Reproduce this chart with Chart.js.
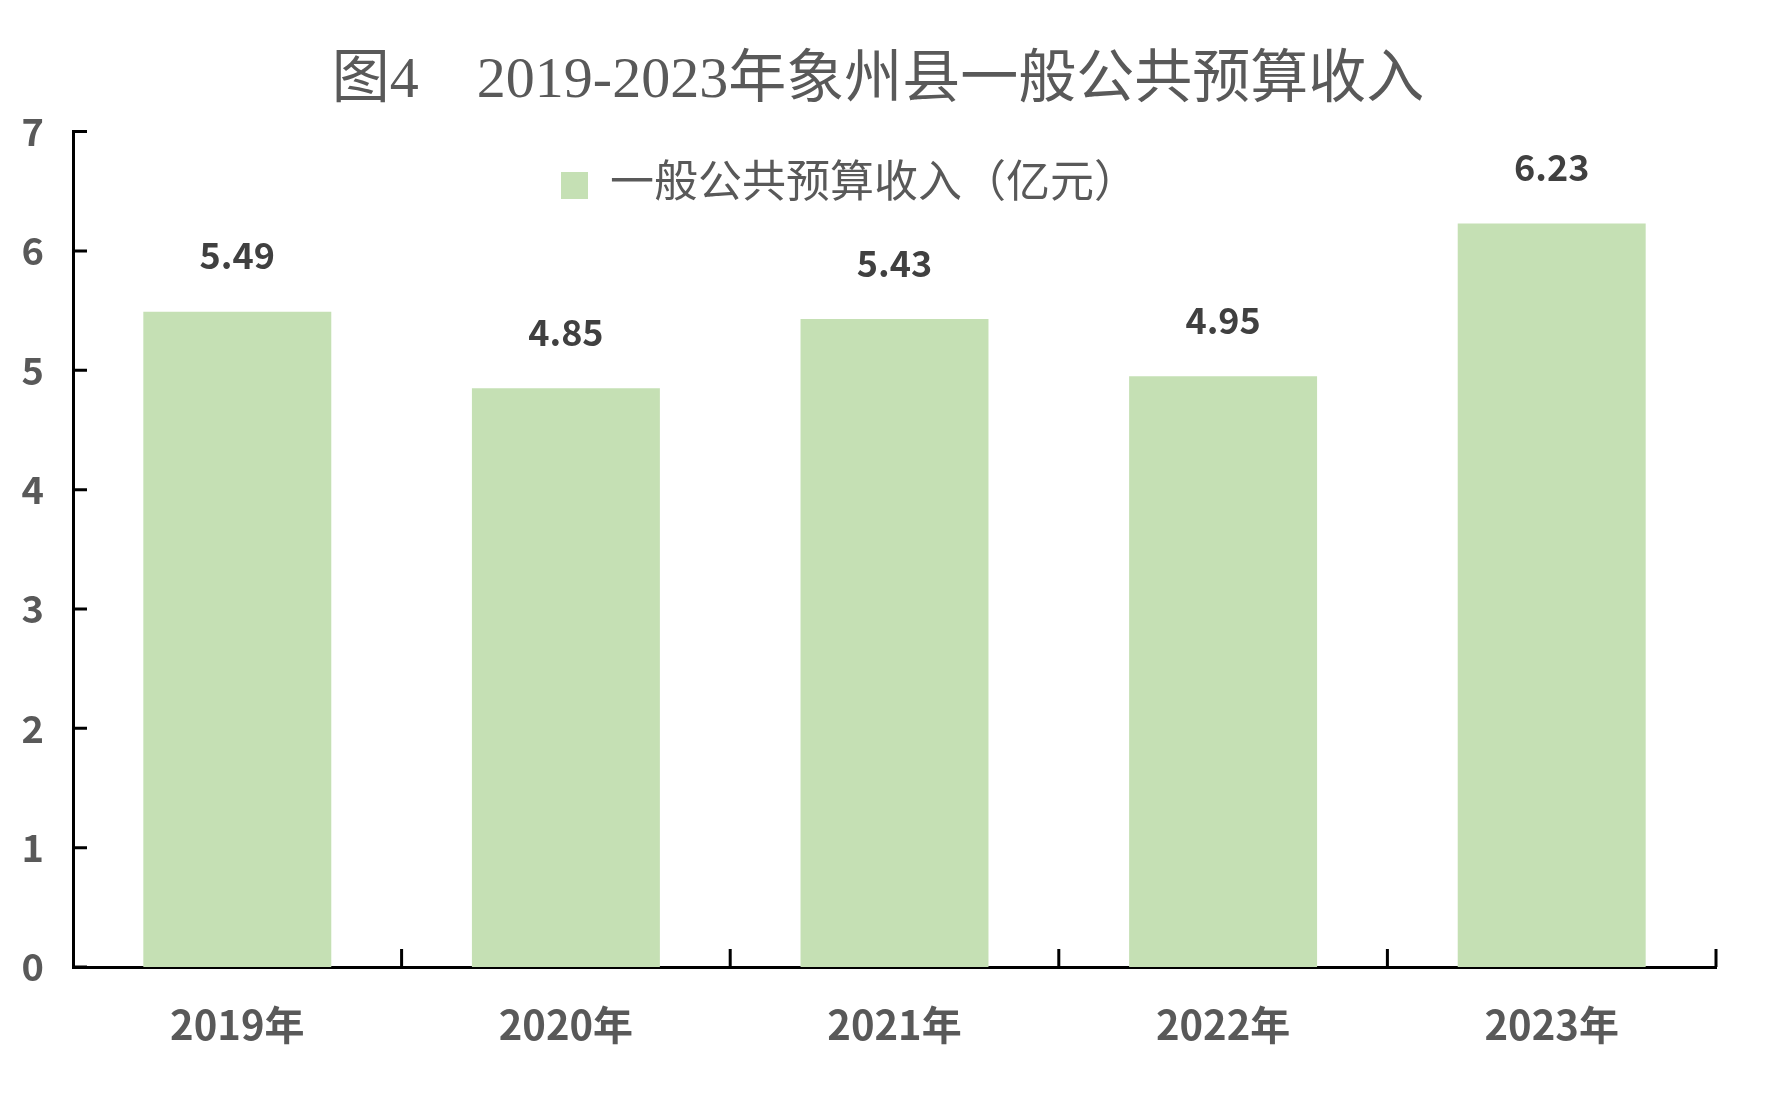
<!DOCTYPE html>
<html>
<head>
<meta charset="utf-8">
<script src="https://cdn.jsdelivr.net/npm/chart.js@4.4.1/dist/chart.umd.min.js"></script>
<style>
  html, body { margin: 0; padding: 0; background: #fff; }
  #wrap { width: 1767px; height: 1100px; }
</style>
</head>
<body>
<div id="wrap"><canvas id="revenueChart" width="1767" height="1100"></canvas></div>
<script>
// 数据
const years = ['2019年', '2020年', '2021年', '2022年', '2023年'];
const revenue = [5.49, 4.85, 5.43, 4.95, 6.23];
const yTicks = [0, 1, 2, 3, 4, 5, 6, 7];
const seriesName = '一般公共预算收入（亿元）';
const chartTitle = '图4　2019-2023年象州县一般公共预算收入';

const tickFont = "'Liberation Sans Narrow', 'Noto Sans CJK SC', sans-serif";
const serifFont = "'Liberation Serif', 'DejaVu Serif', 'Noto Sans CJK SC', serif";

// 数值标签（柱顶上方）
const valueLabels = {
  id: 'valueLabels',
  afterDatasetsDraw(chart) {
    const ctx = chart.ctx;
    const meta = chart.getDatasetMeta(0);
    ctx.save();
    ctx.font = "bold 36px " + tickFont;
    ctx.fillStyle = '#404040';
    ctx.textAlign = 'center';
    ctx.textBaseline = 'middle';
    meta.data.forEach((bar, i) => {
      ctx.fillText(revenue[i].toFixed(2), bar.x, bar.y - 56);
    });
    ctx.restore();
  }
};

// 刻度线朝内
const innerTicks = {
  id: 'innerTicks',
  afterDraw(chart) {
    const ctx = chart.ctx;
    const x = chart.scales.x;
    const y = chart.scales.y;
    const area = chart.chartArea;
    ctx.save();
    ctx.strokeStyle = '#000';
    ctx.lineWidth = 3;
    ctx.beginPath();
    yTicks.forEach(v => {
      const py = y.getPixelForValue(v);
      ctx.moveTo(area.left, py);
      ctx.lineTo(area.left + 14, py);
    });
    for (let i = 0; i < years.length; i++) {
      const px = i < years.length - 1
        ? (x.getPixelForValue(i) + x.getPixelForValue(i + 1)) / 2
        : area.right;
      ctx.moveTo(px, area.bottom);
      ctx.lineTo(px, area.bottom - 18);
    }
    ctx.stroke();
    ctx.restore();
  }
};

// 图例放到绘图区上部（略偏左），标题略偏右
const placeBoxes = {
  id: 'placeBoxes',
  afterLayout(chart) {
    if (chart.legend) {
      chart.legend.left = 535;
      chart.legend.top = chart.chartArea.top + 6;
    }
    if (chart.titleBlock) {
      chart.titleBlock.left += 20;
      chart.titleBlock.right += 20;
    }
  }
};

new Chart(document.getElementById('revenueChart'), {
  type: 'bar',
  data: {
    labels: years,
    datasets: [{
      label: seriesName,
      data: revenue,
      backgroundColor: '#C5E0B4',
      borderWidth: 0,
      categoryPercentage: 1,
      barPercentage: 0.572
    }]
  },
  options: {
    responsive: false,
    animation: false,
    devicePixelRatio: 1,
    layout: { padding: { left: 0, right: 51, top: 0, bottom: 0 } },
    plugins: {
      title: {
        display: true,
        text: chartTitle,
        color: '#595959',
        font: { family: serifFont, size: 58, weight: 'normal', lineHeight: 1.2 },
        padding: { top: 47, bottom: 15 }
      },
      legend: {
        position: 'chartArea',
        align: 'start',
        labels: {
          color: '#595959',
          font: { family: serifFont, size: 44 },
          boxWidth: 27,
          boxHeight: 27,
          padding: 26
        }
      },
      tooltip: { enabled: false }
    },
    scales: {
      x: {
        grid: { display: false, drawTicks: false },
        border: { display: true, color: '#000', width: 3 },
        ticks: {
          color: '#595959',
          padding: 34,
          font: { family: tickFont, size: 40, weight: 'bold' }
        },
        afterFit(scale) { scale.height = 133; }
      },
      y: {
        min: 0,
        max: 7,
        grid: { display: false, drawTicks: false },
        border: { display: true, color: '#000', width: 3 },
        ticks: {
          stepSize: 1,
          color: '#595959',
          padding: 29,
          font: { family: tickFont, size: 38, weight: 'bold' }
        },
        afterFit(scale) { scale.width = 73; }
      }
    }
  },
  plugins: [valueLabels, innerTicks, placeBoxes]
});
</script>
</body>
</html>
